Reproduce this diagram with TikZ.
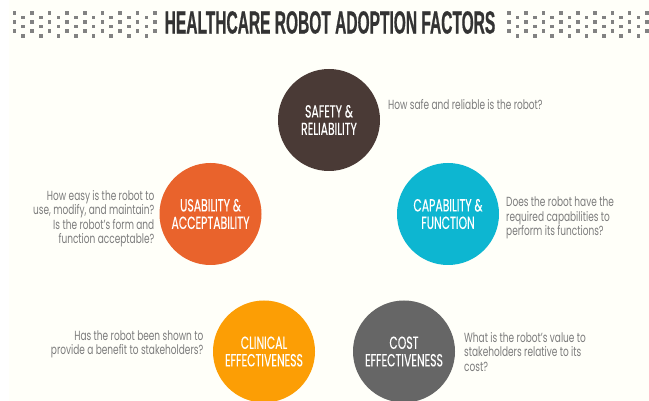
\documentclass[tikz,border=0pt]{standalone}
\usepackage{fontspec}
\setmainfont[FakeStretch=0.68]{Poppins}
\newfontfamily\labelfont[FakeStretch=0.62,FakeBold=0.25]{Poppins}
\newfontfamily\titlefont[FakeStretch=0.485,FakeBold=0.6]{Liberation Sans Bold}
\definecolor{cream}{HTML}{FFFFF9}
\definecolor{dotgray}{HTML}{828282}
\definecolor{bodygray}{HTML}{7C7C7C}
\definecolor{titlegray}{HTML}{333333}
\definecolor{cbrown}{HTML}{4A3A36}
\definecolor{corange}{HTML}{E9632C}
\definecolor{ccyan}{HTML}{0DB6D1}
\definecolor{camber}{HTML}{FC9E05}
\definecolor{cgray}{HTML}{666666}
\tikzset{
  factor/.style={circle,minimum size=102pt,inner sep=0pt,text=white,align=center,font=\labelfont\fontsize{17.5}{17.5}\selectfont},
  note/.style={text=bodygray,inner sep=0pt,font=\fontsize{13.2}{14.4}\selectfont},
  noteL/.style={note,anchor=west,align=left},
  noteR/.style={note,anchor=east,align=right},
  dotmark/.style={fill=dotgray,draw=none}
}
\begin{document}
\begin{tikzpicture}[x=1pt,y=-1pt]
\useasboundingbox (0,0) rectangle (649,401);
\fill[cream] (9,0) rectangle (649,401);
\foreach \sx/\step in {14.3/8.8,509/8.62}{
  \foreach \i in {0,...,16}{
    \pgfmathsetmacro{\cx}{\sx+\i*\step}
    \pgfmathsetmacro{\oy}{mod(\i,2)==0?0:4.7}
    \foreach \ry in {0,1,2}{
      \pgfmathsetmacro{\cy}{12.8+\oy+\ry*9.2}
      \fill[dotmark] (\cx-1.8,\cy-1.8) rectangle (\cx+1.8,\cy+1.8);
    }
  }
}
\node[text=titlegray,inner sep=0pt,font=\titlefont\fontsize{32}{32}\selectfont] (title) at (330,22.5) {HEALTHCARE ROBOT ADOPTION FACTORS};
\node[factor,fill=cbrown] (safety) at (329,120) {SAFETY \&\\RELIABILITY};
\node[factor,fill=corange] (usab) at (210.5,214) {USABILITY \&\\ACCEPTABILITY};
\node[factor,fill=ccyan] (capab) at (448,214) {CAPABILITY \&\\FUNCTION};
\node[factor,fill=cgray] (cost) at (404,351.5) {COST\\EFFECTIVENESS};
\node[factor,fill=camber] (clin) at (264,351.5) {CLINICAL\\EFFECTIVENESS};
\node[noteL] (n1) at (388,104.5) {How safe and reliable is the robot?};
\node[noteR] (n2) at (154.5,218.5) {How easy is the robot to\\use, modify, and maintain?\\Is the robot's form and\\function acceptable?};
\node[noteL] (n3) at (506,218) {Does the robot have the\\required capabilities to\\perform its functions?};
\node[noteR] (n4) at (203.5,344.5) {Has the robot been shown to\\provide a benefit to stakeholders?};
\node[noteL] (n5) at (464,352) {What is the robot's value to\\stakeholders relative to its\\cost?};
\end{tikzpicture}
\end{document}
